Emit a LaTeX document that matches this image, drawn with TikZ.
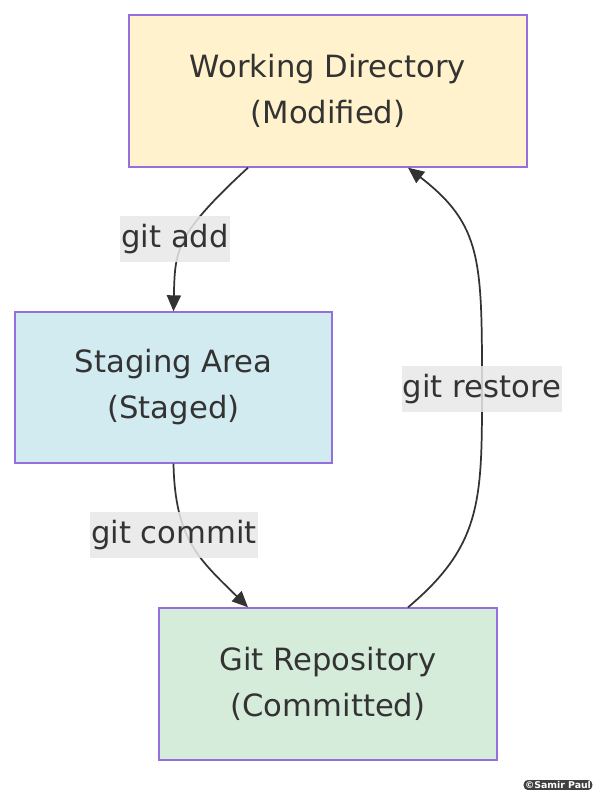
\documentclass[tikz,border=0pt]{standalone}
\usepackage{fontspec}
\setmainfont{DejaVu Sans}
\usetikzlibrary{arrows.meta,calc}
\definecolor{boxline}{HTML}{9370DB}
\definecolor{txt}{HTML}{333333}
\definecolor{wdfill}{HTML}{FFF2CD}
\definecolor{safill}{HTML}{D1EBF1}
\definecolor{grfill}{HTML}{D5ECDB}
\definecolor{lblfill}{HTML}{E8E8E8}
\begin{document}
\begin{tikzpicture}[x=0.75pt,y=-0.75pt,
  area/.style={draw=boxline, line width=1pt, text=txt, align=center,
    font=\fontsize{23}{34.5}\selectfont, inner sep=0pt},
  lbl/.style={fill=lblfill, fill opacity=0.85, text opacity=1, text=txt,
    font=\fontsize{23}{34.5}\selectfont, inner xsep=1pt, inner ysep=0pt,
    minimum height=34.5pt},
  flow/.style={draw=txt, line width=1.3pt, -{Triangle[width=10.5pt,length=12pt]}}]
\useasboundingbox (0,0) rectangle (594,796);
\node[area, fill=wdfill, minimum width=298.5pt, minimum height=114pt] (wd) at (328,91) {Working Directory\\(Modified)};
\node[area, fill=safill, minimum width=237.75pt, minimum height=113.25pt] (sa) at (173.5,387.5) {Staging Area\\(Staged)};
\node[area, fill=grfill, minimum width=253.5pt, minimum height=114pt] (gr) at (328,684) {Git Repository\\(Committed)};

\path[flow] ([xshift=-60pt]wd.south) .. controls (175,235) and (175,250) .. (sa.north);
\path[flow] (sa.south) .. controls (175,540) and (200,560) .. ([xshift=-60pt]gr.north);
\path[flow] ([xshift=60pt]gr.north) .. controls (482,545) and (482,500) .. (482,389)
  .. controls (482,260) and (482,225) .. ([xshift=60pt]wd.south);

\node[lbl] (add) at (175,239) {git add};
\node[lbl] (commit) at (174,535) {git commit};
\node[lbl] (restore) at (482,389) {git restore};

%\node (wm) at (558,785) {Samir Paul};
\node[fill=black!75, rounded corners=3pt, text=white, inner sep=1pt,
  font=\bfseries\fontsize{7}{7}\selectfont] (wm) at (558,785) {©Samir Paul};
\end{tikzpicture}
\end{document}
